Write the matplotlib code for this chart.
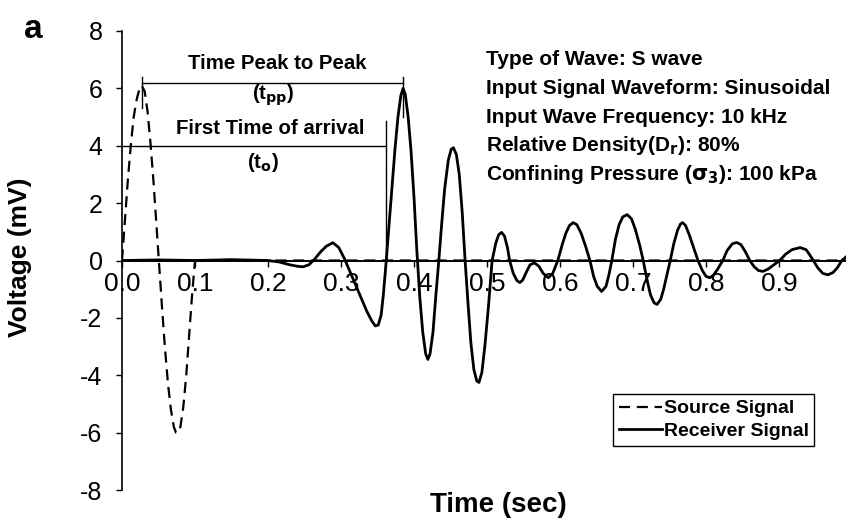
import numpy as np
import matplotlib
matplotlib.use("Agg")
import matplotlib.pyplot as plt

plt.rcParams['font.family'] = ['Liberation Sans', 'DejaVu Sans']
plt.rcParams['mathtext.default'] = 'bf'
plt.rcParams['axes.unicode_minus'] = False

# source pulse: one cycle of the 10 kHz sine, flat afterwards
src_t = [0.0, 0.004, 0.008, 0.012, 0.016, 0.02, 0.024, 0.027, 0.031, 0.035, 0.039, 0.043, 0.047, 0.051,
         0.055, 0.059, 0.063, 0.067, 0.071, 0.074, 0.077, 0.080, 0.084, 0.088, 0.092, 0.096, 0.1, 1.0]
src_v = [0.0, 1.4, 2.8, 4.0, 5.0, 5.6, 6.0, 6.1, 5.9, 5.2, 4.1, 2.8, 1.3, -0.2,
         -1.7, -3.1, -4.3, -5.2, -5.8, -6.0, -6.0, -5.8, -5.1, -4.0, -2.6, -1.2, 0.0, 0.0]

# received signal
rec_t = [0.0, 0.05, 0.10, 0.15, 0.20, 0.215, 0.23, 0.24, 0.248, 0.256, 0.264, 0.272, 0.28, 0.289, 0.297,
         0.305, 0.315, 0.325, 0.335, 0.342, 0.347, 0.351, 0.355, 0.358, 0.362,
         0.366, 0.370, 0.374, 0.378, 0.382, 0.385, 0.388, 0.392, 0.396, 0.400, 0.404,
         0.408, 0.412, 0.416, 0.419, 0.422, 0.426, 0.430, 0.434,
         0.438, 0.442, 0.447, 0.451, 0.454, 0.458, 0.462, 0.466, 0.470,
         0.474, 0.478, 0.482, 0.486, 0.489, 0.493, 0.497, 0.502, 0.507,
         0.512, 0.516, 0.520, 0.524, 0.528, 0.531,
         0.536, 0.541, 0.545, 0.549, 0.554, 0.559, 0.565, 0.571, 0.577, 0.584, 0.590, 0.597,
         0.603, 0.608, 0.613, 0.618, 0.623, 0.629, 0.635, 0.641,
         0.646, 0.651, 0.657, 0.663, 0.667, 0.671,
         0.676, 0.681, 0.686, 0.692, 0.698, 0.703, 0.709, 0.714,
         0.719, 0.724, 0.729, 0.733, 0.738, 0.742, 0.747, 0.751,
         0.756, 0.761, 0.765, 0.768, 0.772, 0.777, 0.783, 0.789,
         0.795, 0.800, 0.805, 0.810, 0.816, 0.823,
         0.829, 0.836, 0.842, 0.848, 0.854, 0.860,
         0.866, 0.872, 0.878, 0.885, 0.893, 0.901,
         0.909, 0.918, 0.929, 0.937, 0.942, 0.947,
         0.953, 0.960, 0.967, 0.974, 0.980, 0.986, 1.0]
rec_v = [0.0, 0.02, 0.0, 0.03, 0.0, -0.05, -0.15, -0.2, -0.22, -0.15, 0.05, 0.3, 0.5, 0.62, 0.45,
         0.05, -0.55, -1.15, -1.75, -2.1, -2.28, -2.25, -1.9, -1.2, 0.0,
         1.3, 2.6, 3.9, 5.0, 5.75, 6.0, 5.8, 5.0, 3.8, 2.2, 0.3,
         -1.3, -2.5, -3.25, -3.45, -3.25, -2.5, -1.2, 0.0,
         1.3, 2.5, 3.5, 3.88, 3.93, 3.7, 3.0, 1.7, 0.0,
         -1.5, -2.9, -3.8, -4.2, -4.25, -3.9, -3.0, -1.6, 0.0,
         0.6, 0.9, 0.98, 0.85, 0.45, 0.0,
         -0.45, -0.7, -0.77, -0.68, -0.4, -0.15, -0.08, -0.2, -0.45, -0.6, -0.45, 0.0,
         0.55, 0.95, 1.22, 1.32, 1.25, 0.95, 0.5, 0.0,
         -0.55, -0.9, -1.08, -0.9, -0.5, 0.0,
         0.75, 1.25, 1.52, 1.6, 1.45, 1.1, 0.55, 0.0,
         -0.65, -1.2, -1.48, -1.53, -1.35, -1.0, -0.45, 0.0,
         0.6, 1.05, 1.27, 1.32, 1.22, 0.9, 0.45, 0.0,
         -0.35, -0.55, -0.6, -0.52, -0.3, 0.0,
         0.35, 0.58, 0.63, 0.55, 0.3, 0.0,
         -0.22, -0.35, -0.38, -0.3, -0.15, 0.0,
         0.22, 0.38, 0.45, 0.38, 0.2, 0.0,
         -0.25, -0.45, -0.5, -0.42, -0.25, 0.0, 0.3]

t_first_peak = 0.027
t_recv_peak = 0.385
t_arrival = 0.361

info_lines = ["Type of Wave: S wave",
              "Input Signal Waveform: Sinusoidal",
              "Input Wave Frequency: 10 kHz",
              r"Relative Density(D$_\mathbf{r}$): 80%",
              r"Confining Pressure ($\mathbf{\sigma_3}$): 100 kPa"]

fig = plt.figure(figsize=(8.46, 5.23), dpi=100)
ax = fig.add_axes([122/846, 33/523, 730/846, 459/523])

ax.plot(src_t, src_v, color='black', lw=1.6, dashes=(5, 3), label='Source Signal')
ax.plot(rec_t, rec_v, color='black', lw=2.0, solid_joinstyle='round', label='Receiver Signal')

ax.set_xlim(0, 1.0)
ax.set_ylim(-8, 8)
ax.set_yticks(np.arange(-8, 9, 2))
ax.set_xticks(np.arange(0, 1.01, 0.1))
ax.set_xticklabels(['0.0', '0.1', '0.2', '0.3', '0.4', '0.5', '0.6', '0.7', '0.8', '0.9', '1'])

ax.spines['right'].set_visible(False)
ax.spines['top'].set_visible(False)
ax.spines['bottom'].set_position(('data', 0))
ax.spines['bottom'].set_linewidth(1.4)
ax.spines['left'].set_linewidth(1.2)
ax.tick_params(axis='y', direction='out', length=4, width=1, labelsize=18, pad=10)
ax.tick_params(axis='x', direction='out', length=4, width=1, labelsize=19, pad=4)

# peak-to-peak and arrival markers
ax.plot([t_first_peak, t_recv_peak], [6.2, 6.2], color='black', lw=1)
ax.plot([t_first_peak, t_first_peak], [5.3, 6.4], color='black', lw=1)
ax.plot([t_recv_peak, t_recv_peak], [5.0, 6.4], color='black', lw=1)
ax.plot([0, t_arrival], [4.0, 4.0], color='black', lw=1)
ax.plot([t_arrival, t_arrival], [0, 4.85], color='black', lw=1)

ax.text(0.212, 6.85, 'Time Peak to Peak', ha='center', va='center', fontsize=14.7, fontweight='bold')
ax.text(0.207, 5.75, r'(t$_\mathbf{pp}$)', ha='center', va='center', fontsize=14.7, fontweight='bold')
ax.text(0.203, 4.6, 'First Time of arrival', ha='center', va='center', fontsize=14.7, fontweight='bold')
ax.text(0.193, 3.4, r'(t$_\mathbf{o}$)', ha='center', va='center', fontsize=14.7, fontweight='bold')

for i, line in enumerate(info_lines):
    ax.text(0.498, 7.0 - i, line, ha='left', va='center', fontsize=15, fontweight='bold')

ax.legend(loc='upper left', bbox_to_anchor=(613/846, 1 - 394/523), bbox_transform=fig.transFigure,
          borderaxespad=0, fancybox=False, edgecolor='black', framealpha=1,
          prop={'weight': 'bold', 'size': 14}, handlelength=2.2, handletextpad=0.1,
          borderpad=0.3, labelspacing=0.25)

fig.text(20/846, 1 - 257/523, 'Voltage (mV)', rotation=90, ha='center', va='center',
         fontsize=19, fontweight='bold')
fig.text(498/846, 1 - 505/523, 'Time (sec)', ha='center', va='center', fontsize=20, fontweight='bold')
fig.text(33/846, 1 - 30/523, 'a', ha='center', va='center', fontsize=24, fontweight='bold')

fig.savefig('out.png', dpi=100)
